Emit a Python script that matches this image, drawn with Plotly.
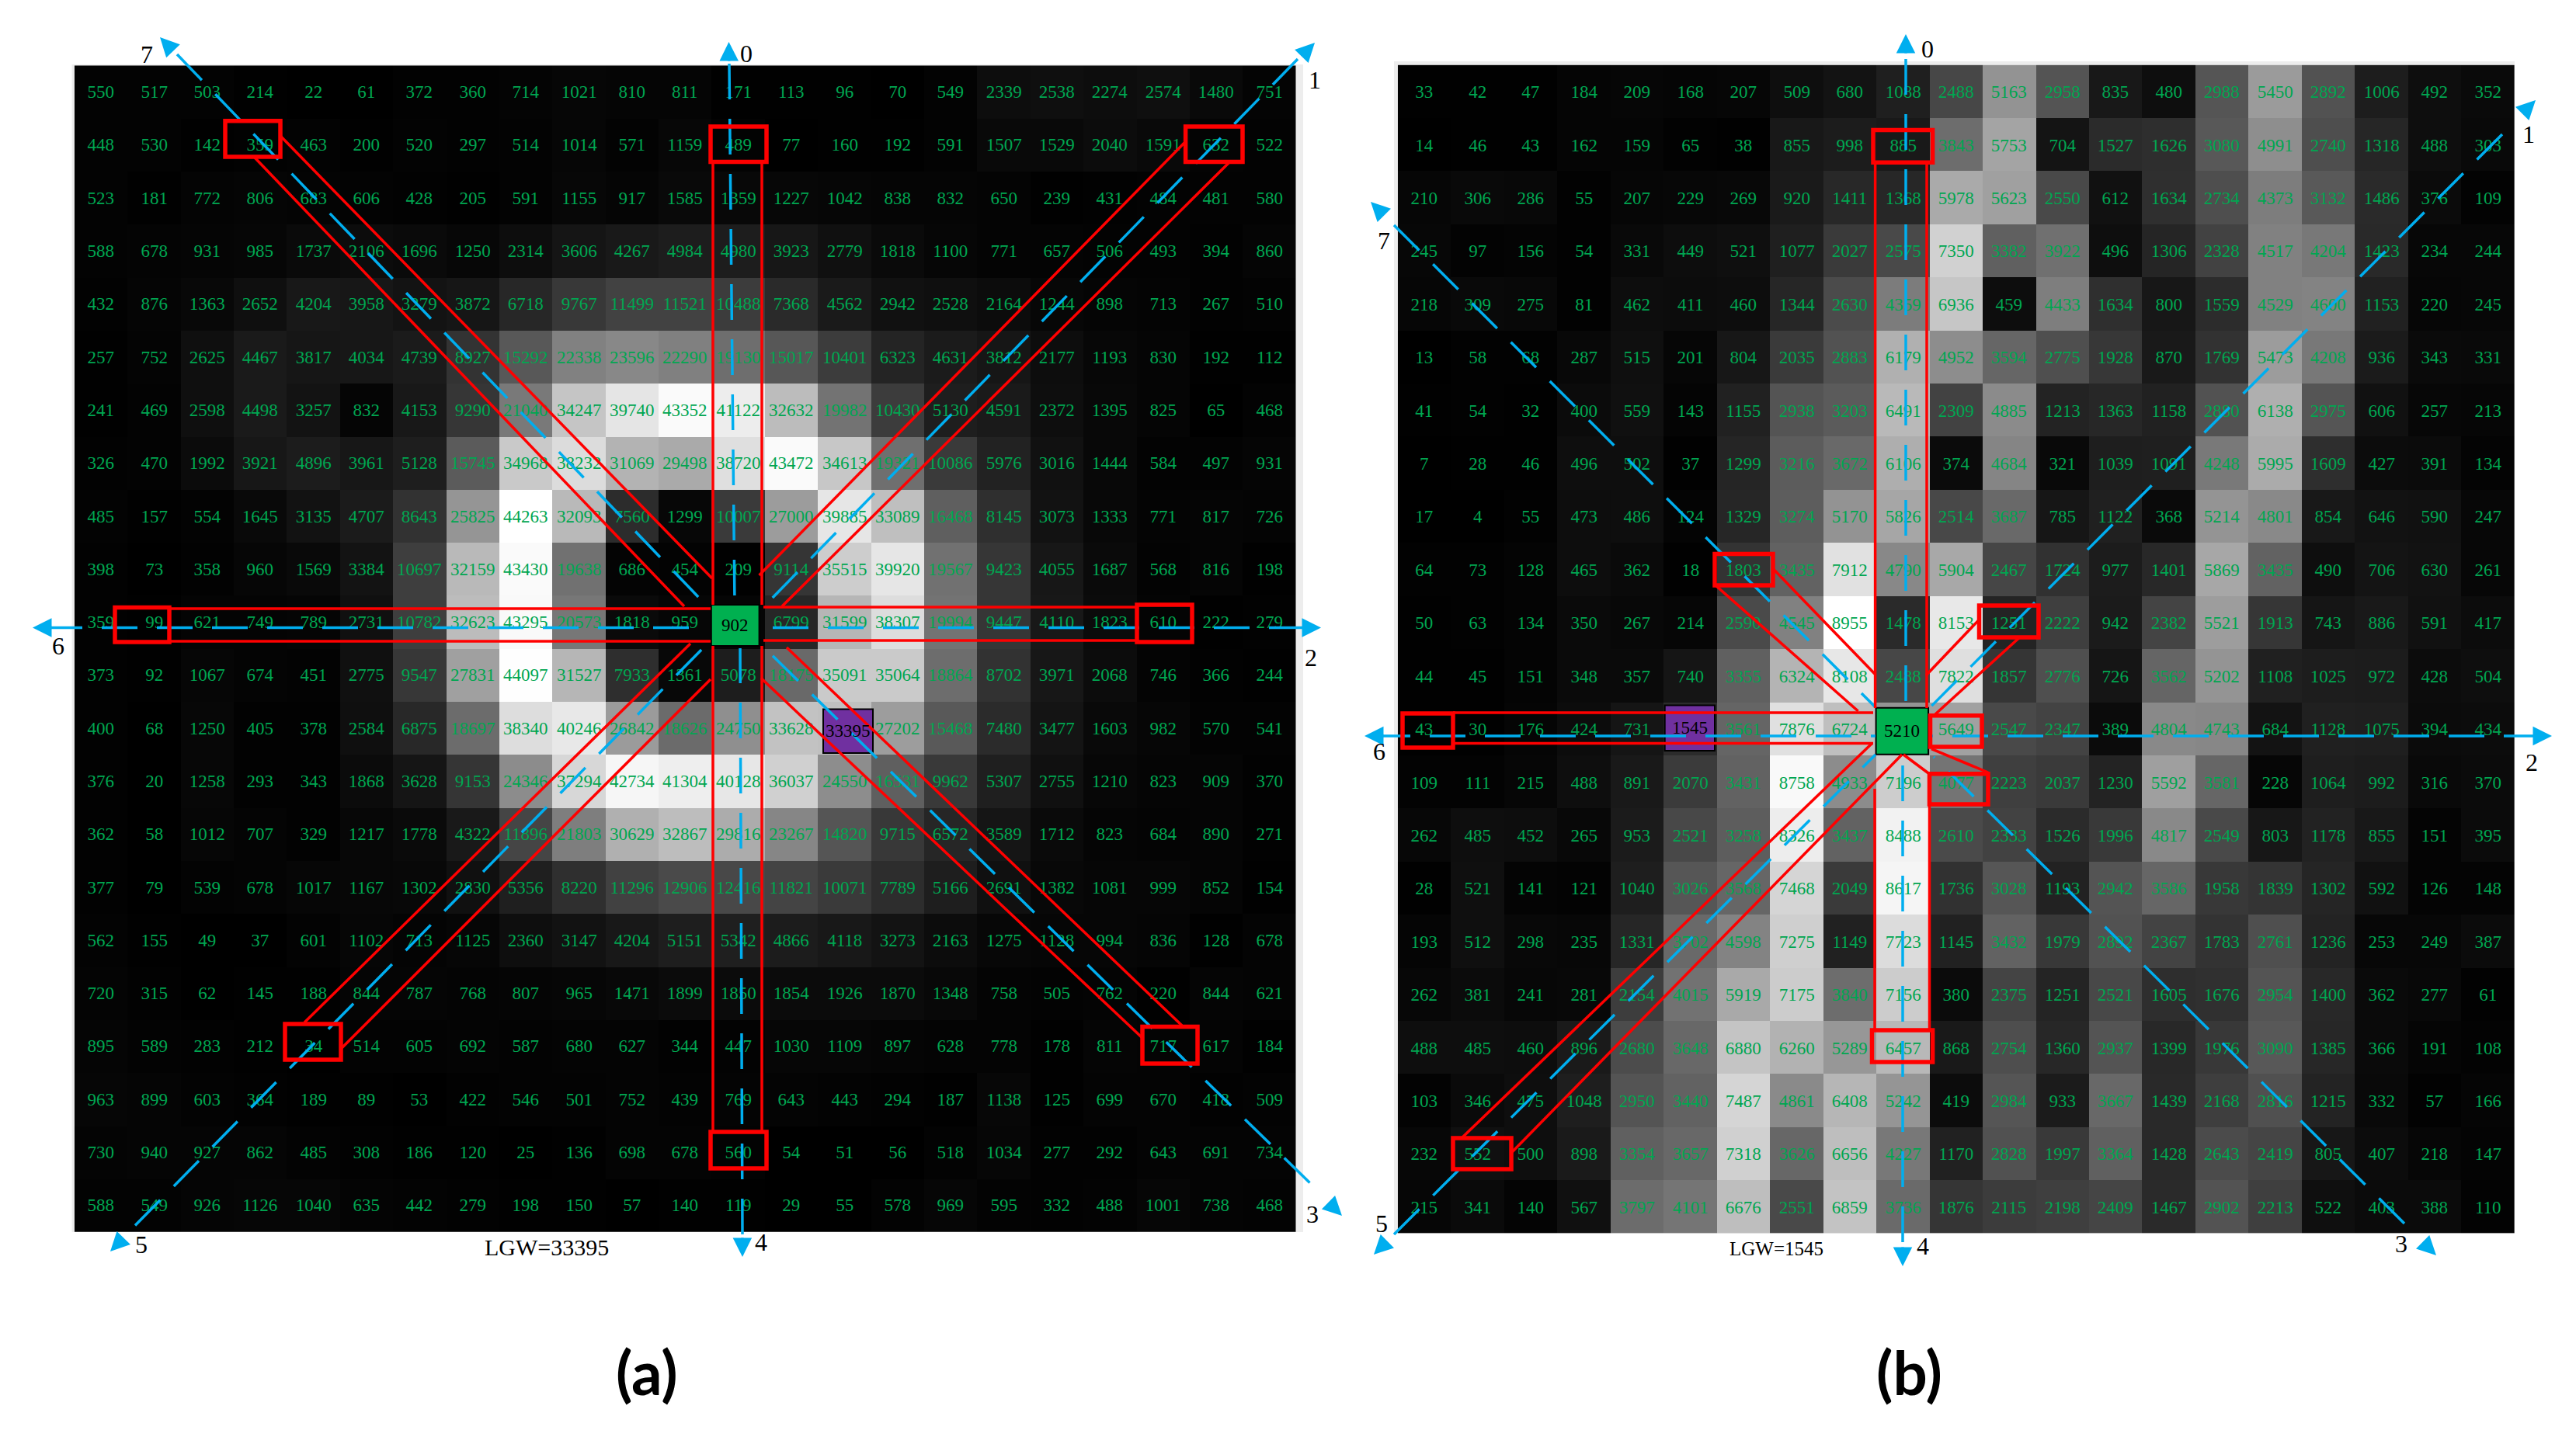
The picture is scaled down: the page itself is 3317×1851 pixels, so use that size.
import plotly.graph_objects as go

W = 3317
H = 1851

values_a = [
    [550, 517, 503, 214, 22, 61, 372, 360, 714, 1021, 810, 811, 171, 113, 96, 70, 549, 2339, 2538, 2274, 2574, 1480, 751],
    [448, 530, 142, 359, 463, 200, 520, 297, 514, 1014, 571, 1159, 489, 77, 160, 192, 591, 1507, 1529, 2040, 1591, 632, 522],
    [523, 181, 772, 806, 683, 606, 428, 205, 591, 1155, 917, 1585, 1359, 1227, 1042, 838, 832, 650, 239, 431, 484, 481, 580],
    [588, 678, 931, 985, 1737, 2106, 1696, 1250, 2314, 3606, 4267, 4984, 4980, 3923, 2779, 1818, 1100, 771, 657, 506, 493, 394, 860],
    [432, 876, 1363, 2652, 4204, 3958, 3279, 3872, 6718, 9767, 11499, 11521, 10488, 7368, 4562, 2942, 2528, 2164, 1244, 898, 713, 267, 510],
    [257, 752, 2625, 4467, 3817, 4034, 4739, 8927, 15292, 22338, 23596, 22290, 19130, 15017, 10401, 6323, 4631, 3812, 2177, 1193, 830, 192, 112],
    [241, 469, 2598, 4498, 3257, 832, 4153, 9290, 21040, 34247, 39740, 43352, 41122, 32632, 19982, 10430, 5130, 4591, 2372, 1395, 825, 65, 468],
    [326, 470, 1992, 3921, 4896, 3961, 5128, 15745, 34968, 38232, 31069, 29498, 38720, 43472, 34613, 19321, 10086, 5976, 3016, 1444, 584, 497, 931],
    [485, 157, 554, 1645, 3135, 4707, 8643, 25825, 44263, 32093, 7560, 1299, 10007, 27000, 39885, 33089, 16468, 8145, 3073, 1333, 771, 817, 726],
    [398, 73, 358, 960, 1569, 3384, 10697, 32159, 43430, 19638, 686, 454, 209, 9114, 35515, 39920, 19567, 9423, 4055, 1687, 568, 816, 198],
    [359, 99, 621, 749, 789, 2731, 10782, 32623, 43295, 20573, 1818, 959, 902, 6799, 31599, 38307, 19994, 9447, 4110, 1823, 610, 222, 279],
    [373, 92, 1067, 674, 451, 2775, 9547, 27831, 44097, 31527, 7933, 1361, 5078, 18175, 35091, 35064, 18864, 8702, 3971, 2068, 746, 366, 244],
    [400, 68, 1250, 405, 378, 2584, 6875, 18697, 38340, 40246, 26842, 18626, 24750, 33628, 33395, 27202, 15468, 7480, 3477, 1603, 982, 570, 541],
    [376, 20, 1258, 293, 343, 1868, 3628, 9153, 24346, 37294, 42734, 41304, 40128, 36037, 24550, 16531, 9962, 5307, 2755, 1210, 823, 909, 370],
    [362, 58, 1012, 707, 329, 1217, 1778, 4322, 11896, 21803, 30629, 32867, 29816, 23267, 14820, 9715, 6572, 3589, 1712, 823, 684, 890, 271],
    [377, 79, 539, 678, 1017, 1167, 1302, 2830, 5356, 8220, 11296, 12906, 12416, 11821, 10071, 7789, 5166, 2691, 1382, 1081, 999, 852, 154],
    [562, 155, 49, 37, 601, 1102, 713, 1125, 2360, 3147, 4204, 5151, 5342, 4866, 4118, 3273, 2163, 1275, 1128, 994, 836, 128, 678],
    [720, 315, 62, 145, 188, 844, 787, 768, 807, 965, 1471, 1899, 1850, 1854, 1926, 1870, 1348, 758, 505, 762, 220, 844, 621],
    [895, 589, 283, 212, 34, 514, 605, 692, 587, 680, 627, 344, 447, 1030, 1109, 897, 628, 778, 178, 811, 717, 617, 184],
    [963, 899, 603, 364, 189, 89, 53, 422, 546, 501, 752, 439, 769, 643, 443, 294, 187, 1138, 125, 699, 670, 418, 509],
    [730, 940, 927, 862, 485, 308, 186, 120, 25, 136, 698, 678, 560, 54, 51, 56, 518, 1034, 277, 292, 643, 691, 734],
    [588, 549, 926, 1126, 1040, 635, 442, 279, 198, 150, 57, 140, 119, 29, 55, 578, 969, 595, 332, 488, 1001, 738, 468],
]

values_b = [
    [33, 42, 47, 184, 209, 168, 207, 509, 680, 1088, 2488, 5163, 2958, 835, 480, 2988, 5450, 2892, 1006, 492, 352],
    [14, 46, 43, 162, 159, 65, 38, 855, 998, 885, 3843, 5753, 704, 1527, 1626, 3080, 4991, 2740, 1318, 488, 303],
    [210, 306, 286, 55, 207, 229, 269, 920, 1411, 1368, 5978, 5623, 2550, 612, 1634, 2734, 4373, 3132, 1486, 376, 109],
    [245, 97, 156, 54, 331, 449, 521, 1077, 2027, 2575, 7350, 3382, 3922, 496, 1306, 2328, 4517, 4204, 1423, 234, 244],
    [218, 309, 275, 81, 462, 411, 460, 1344, 2630, 4359, 6936, 459, 4433, 1634, 800, 1559, 4529, 4600, 1153, 220, 245],
    [13, 58, 68, 287, 515, 201, 804, 2035, 2883, 6179, 4952, 3594, 2775, 1928, 870, 1769, 5473, 4208, 936, 343, 331],
    [41, 54, 32, 400, 559, 143, 1155, 2938, 3203, 6491, 2309, 4885, 1213, 1363, 1158, 2880, 6138, 2975, 606, 257, 213],
    [7, 28, 46, 496, 502, 37, 1299, 3216, 3672, 6106, 374, 4684, 321, 1039, 1091, 4248, 5995, 1609, 427, 391, 134],
    [17, 4, 55, 473, 486, 124, 1329, 3274, 5170, 5826, 2514, 3687, 785, 1122, 368, 5214, 4801, 854, 646, 590, 247],
    [64, 73, 128, 465, 362, 18, 1803, 3435, 7912, 4790, 5904, 2467, 1724, 977, 1401, 5869, 3435, 490, 706, 630, 261],
    [50, 63, 134, 350, 267, 214, 2590, 4545, 8955, 1478, 8153, 1251, 2222, 942, 2382, 5521, 1913, 743, 886, 591, 417],
    [44, 45, 151, 348, 357, 740, 3355, 6324, 8108, 2488, 7822, 1857, 2776, 726, 3562, 5202, 1108, 1025, 972, 428, 504],
    [43, 30, 176, 424, 731, 1545, 3561, 7876, 6724, 5210, 5649, 2547, 2347, 389, 4804, 4743, 684, 1128, 1075, 394, 434],
    [109, 111, 215, 488, 891, 2070, 3431, 8758, 4933, 7196, 4077, 2223, 2037, 1230, 5592, 3581, 228, 1064, 992, 316, 370],
    [262, 485, 452, 265, 953, 2521, 3258, 8326, 3437, 8488, 2610, 2333, 1526, 1996, 4817, 2549, 803, 1178, 855, 151, 395],
    [28, 521, 141, 121, 1040, 3026, 3568, 7468, 2049, 8617, 1736, 3028, 1193, 2942, 3586, 1958, 1839, 1302, 592, 126, 148],
    [193, 512, 298, 235, 1331, 3702, 4598, 7275, 1149, 7723, 1145, 3432, 1979, 2892, 2367, 1783, 2761, 1236, 253, 249, 387],
    [262, 381, 241, 281, 2154, 4015, 5919, 7175, 3840, 7156, 380, 2375, 1251, 2521, 1605, 1676, 2954, 1400, 362, 277, 61],
    [488, 485, 460, 896, 2680, 3648, 6880, 6260, 5289, 6457, 868, 2754, 1360, 2937, 1399, 1976, 3090, 1385, 366, 191, 108],
    [103, 346, 475, 1048, 2950, 3440, 7487, 4861, 6408, 5242, 419, 2984, 933, 3667, 1439, 2168, 2816, 1215, 332, 57, 166],
    [232, 552, 500, 898, 3354, 3657, 7318, 3626, 6656, 4227, 1170, 2828, 1997, 3364, 1428, 2643, 2419, 805, 407, 218, 147],
    [215, 341, 140, 567, 3797, 4101, 6676, 2551, 6859, 3736, 1876, 2115, 2198, 2409, 1467, 2902, 2213, 522, 403, 388, 110],
]

# row, col of the green centre cell and the purple LGW cell
center_a = (10, 12)
lgw_a = (12, 14)
center_b = (12, 9)
lgw_b = (12, 5)

direction_labels = ['0', '1', '2', '3', '4', '5', '6', '7']
panel_labels = ['(a)', '(b)']

BLUE = '#00AEEF'
RED = '#FF0000'
GREEN = '#00B050'
PURPLE = '#7030A0'
TEXT_GREEN = '#00A651'
FONT = 'Liberation Serif'

# everything below is drawn on top in page pixels
grid_a = (95.8, 1668.6, 84.3, 1586.8)
grid_b = (1799.8, 3237.8, 83.6, 1588.6)

green_box_a = (915.8, 977.6, 779, 832)
purple_box_a = (1060, 1124, 913.6, 970)
green_box_b = (2415.6, 2483, 911.8, 971.8)
purple_box_b = (2143.7, 2208, 908.6, 967)

red_boxes_a = [
    (915, 987, 163, 208.6), (1526.6, 1600, 163, 208.6), (1464, 1535, 779, 827), (1471, 1542, 1322.5, 1370),
    (915, 987, 1458, 1505), (367, 439, 1319, 1365), (148, 218, 782.5, 827), (290, 361, 155.7, 202),
]
red_boxes_b = [
    (2412, 2488.6, 167.5, 209.3), (2548.5, 2625, 780, 821), (2485.5, 2552, 921.8, 962), (2484.5, 2560, 996.8, 1036),
    (2410.5, 2488.6, 1327, 1368), (1871, 1946, 1466, 1506), (1806, 1871, 919, 963), (2208, 2283, 713.6, 754),
]

red_lines_a = [
    (918, 208, 918, 779), (981, 208, 981, 779),
    (1525, 184, 977.6, 741), (1582, 210, 1007, 781),
    (1464, 782, 983, 782), (1464, 825, 983, 825),
    (980, 873.6, 1471, 1337), (1013, 834, 1522, 1321),
    (918, 832, 918, 1458), (981, 832, 981, 1458),
    (889, 829, 392, 1317), (915, 875, 439, 1351),
    (218, 784, 915, 784), (218, 826, 915, 826),
    (361, 175, 917, 745), (328, 203, 881, 781),
]
red_lines_b = [
    (2414.6, 209, 2414.6, 912), (2481, 209, 2481, 912),
    (2548, 798.6, 2480, 870), (2599.5, 822, 2492, 920),
    (2487, 964.6, 2560, 995), (2451, 972, 2484.5, 997),
    (2414, 1016, 2414, 1327), (2484.5, 1036, 2484.5, 1327),
    (2410.5, 957.5, 1882, 1466), (2449, 972, 1946, 1485),
    (1871, 918, 2412, 918), (1871, 957.5, 2412, 957.5),
    (2283, 732.5, 2414, 868), (2209, 754, 2392.6, 916),
]

# outer end then inner end, dashes start from the outside
blue_lines_a = [
    (939, 82, 946, 779), (1671, 76, 985, 780), (1680, 808.6, 980, 808.6), (1686.5, 1523.6, 985, 835),
    (956, 1590, 953, 835), (174, 1578.6, 910, 830), (60, 808.6, 912, 808.6), (228, 70, 905, 775),
]
blue_lines_b = [
    (2454, 76, 2454, 912), (3222, 173, 2485.5, 911), (3270, 948, 2485, 948), (3096, 1576, 2490, 975),
    (2450, 1600, 2450, 975), (1795, 1590, 2415, 972), (1770, 948, 2415, 948), (1795, 290, 2415, 911),
]

arrow_tips_a = [(938.5, 54), (1693, 55), (1701, 808.6), (1728, 1566), (956, 1619), (142, 1612), (42, 808.6), (206, 48)]
arrow_tips_b = [(2454, 44), (3265, 129), (3286, 948), (3137, 1617), (2450, 1631), (1769, 1616), (1757, 948), (1765, 260)]

label_spots_a = [(961, 69), (1693, 103), (1688, 847), (1690, 1564), (980, 1600), (182, 1603), (75, 832), (189, 70)]
label_spots_b = [(2482, 63), (3256, 173), (3260, 982), (3092, 1602), (2476, 1605), (1779, 1576), (1776, 968), (1782, 310)]


def px(x):
    return x / W


def py(y):
    return 1 - y / H


def cell_texts(values, hidden):
    # the coloured cells get their black label from an annotation instead
    return [['' if (r, c) in hidden else str(v) for c, v in enumerate(row)] for r, row in enumerate(values)]


def heatmap(values, hidden, xaxis, yaxis):
    return go.Heatmap(
        z=values,
        text=cell_texts(values, hidden),
        texttemplate='%{text}',
        textfont=dict(family=FONT, size=23, color=TEXT_GREEN),
        colorscale=[[0, 'rgb(0,0,0)'], [1, 'rgb(255,255,255)']],
        zmin=0,
        zmax=max(max(row) for row in values),
        showscale=False,
        hoverinfo='skip',
        xaxis=xaxis,
        yaxis=yaxis,
    )


def rect(box, color, width, fill=None, layer='above'):
    return dict(type='rect', xref='paper', yref='paper', layer=layer,
                x0=px(box[0]), x1=px(box[1]), y0=py(box[2]), y1=py(box[3]),
                line=dict(color=color, width=width), fillcolor=fill)


def segment(seg, color, width, dash='solid'):
    return dict(type='line', xref='paper', yref='paper', layer='above',
                x0=px(seg[0]), y0=py(seg[1]), x1=px(seg[2]), y1=py(seg[3]),
                line=dict(color=color, width=width, dash=dash))


def text_at(x, y, text, size, color='black', family=FONT):
    return dict(xref='paper', yref='paper', x=px(x), y=py(y), text=text, showarrow=False,
                xanchor='center', yanchor='middle', font=dict(family=family, size=size, color=color))


def arrow_at(tip, line):
    # short shaft along the direction line, the head sits on the tip
    dx = line[0] - line[2]
    dy = line[1] - line[3]
    length = (dx ** 2 + dy ** 2) ** 0.5
    return dict(xref='paper', yref='paper', x=px(tip[0]), y=py(tip[1]), text='', showarrow=True,
                ax=-dx / length * 26, ay=-dy / length * 26, arrowhead=2, arrowsize=1.4, arrowwidth=3.5,
                arrowcolor=BLUE, startstandoff=0, standoff=0)


fig = go.Figure()
fig.add_trace(heatmap(values_a, [center_a, lgw_a], 'x', 'y'))
fig.add_trace(heatmap(values_b, [center_b, lgw_b], 'x2', 'y2'))

shapes = [
    rect((92.5, 1678, 83, 1587), '#EDEDED', 0, '#EDEDED', 'below'),
    rect((1795, 3238, 79, 1589), '#EDEDED', 0, '#EDEDED', 'below'),
]
for boxes, lines, blues, green, purple in [
    (red_boxes_a, red_lines_a, blue_lines_a, green_box_a, purple_box_a),
    (red_boxes_b, red_lines_b, blue_lines_b, green_box_b, purple_box_b),
]:
    shapes.append(rect(green, 'black', 2, GREEN))
    shapes.append(rect(purple, 'black', 2, PURPLE))
    for seg in blues:
        shapes.append(segment(seg, BLUE, 3.5, '46px,25px'))
    for seg in lines:
        shapes.append(segment(seg, RED, 3.5))
    for box in boxes:
        shapes.append(rect(box, RED, 5.5))

annotations = []
for green, purple, values, center, lgw in [
    (green_box_a, purple_box_a, values_a, center_a, lgw_a),
    (green_box_b, purple_box_b, values_b, center_b, lgw_b),
]:
    annotations.append(text_at((green[0] + green[1]) / 2, (green[2] + green[3]) / 2, str(values[center[0]][center[1]]), 23))
    annotations.append(text_at((purple[0] + purple[1]) / 2, (purple[2] + purple[3]) / 2, str(values[lgw[0]][lgw[1]]), 23))

for tips, blues, spots in [
    (arrow_tips_a, blue_lines_a, label_spots_a),
    (arrow_tips_b, blue_lines_b, label_spots_b),
]:
    for label, tip, line, spot in zip(direction_labels, tips, blues, spots):
        annotations.append(arrow_at(tip, line))
        annotations.append(text_at(spot[0], spot[1], label, 32))

annotations.append(text_at(704, 1606, 'LGW=' + str(values_a[lgw_a[0]][lgw_a[1]]), 30))
annotations.append(text_at(2287, 1608, 'LGW=' + str(values_b[lgw_b[0]][lgw_b[1]]), 25))
annotations.append(text_at(833, 1767, '<b>' + panel_labels[0] + '</b>', 78, family='Lato'))
annotations.append(text_at(2458, 1767, '<b>' + panel_labels[1] + '</b>', 78, family='Lato'))

fig.update_layout(
    width=W,
    height=H,
    margin=dict(l=0, r=0, t=0, b=0),
    paper_bgcolor='white',
    plot_bgcolor='white',
    showlegend=False,
    shapes=shapes,
    annotations=annotations,
    xaxis=dict(domain=[px(grid_a[0]), px(grid_a[1])], range=[-0.5, 22.5], visible=False),
    yaxis=dict(domain=[py(grid_a[3]), py(grid_a[2])], range=[21.5, -0.5], visible=False),
    xaxis2=dict(domain=[px(grid_b[0]), px(grid_b[1])], range=[-0.5, 20.5], visible=False, anchor='y2'),
    yaxis2=dict(domain=[py(grid_b[3]), py(grid_b[2])], range=[21.5, -0.5], visible=False, anchor='x2'),
)

fig.write_html("out.html", config={'displayModeBar': False}, post_script="document.body.style.margin='0';")
